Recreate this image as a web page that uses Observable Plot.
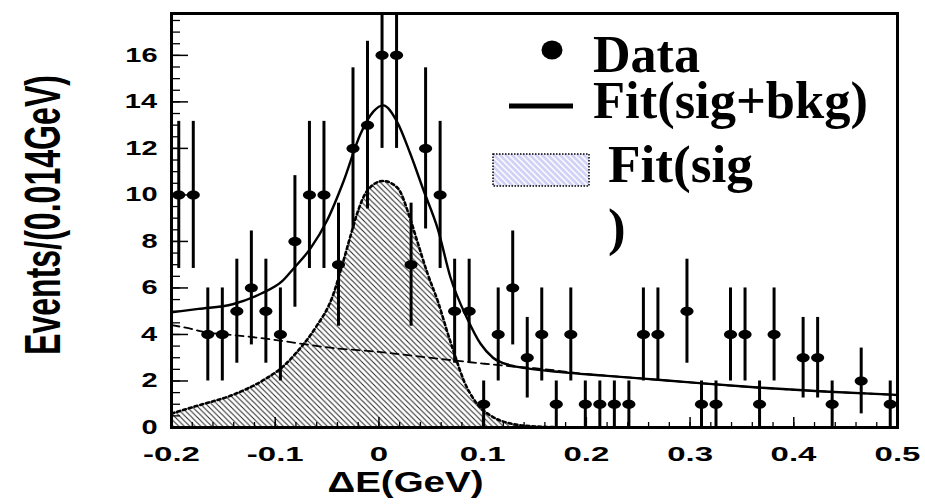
<!DOCTYPE html>
<html>
<head>
<meta charset="utf-8">
<script src="https://cdn.jsdelivr.net/npm/d3@7"></script>
<script src="https://cdn.jsdelivr.net/npm/@observablehq/plot@0.6"></script>
<style>
  html, body { margin: 0; padding: 0; background: #fff; }
  svg { display: block; }
</style>
</head>
<body>
<div id="chart"></div>
<script>
// ---------------- data ----------------
const binStart = -0.2;
const binWidth = 0.014;
// events per 0.014 GeV bin (50 bins from -0.2 to 0.5)
const counts = [10, 10, 4, 4, 5, 6, 5, 4, 8, 10,
                10, 7, 12, 13, 16, 16, 7, 12, 10, 5,
                5, 1, 4, 6, 3, 4, 1, 4, 1, 1,
                1, 1, 4, 4, 0, 5, 1, 1, 4, 4,
                1, 4, 0, 3, 3, 1, 0, 2, 0, 1];

// Fit(sig+bkg) – solid curve
const totX = [-0.2, -0.174, -0.141, -0.114, -0.093, -0.082, -0.066, -0.05, -0.034, -0.018, -0.005, 0.004,
              0.018, 0.030, 0.043, 0.057, 0.069, 0.085, 0.098, 0.110, 0.127, 0.143, 0.175, 0.214,
              0.255, 0.300, 0.365, 0.429, 0.5];
const totY = [4.95, 5.1, 5.3, 5.75, 6.3, 6.85, 7.7, 8.9, 10.6, 12.6, 13.6, 13.85,
              13.1, 11.8, 10.2, 8.5, 6.45, 4.7, 3.6, 3.0, 2.67, 2.54, 2.38, 2.24,
              2.1, 1.94, 1.72, 1.55, 1.4];

// Fit(sig) – hatched, dashed border
const sigX = [-0.2, -0.174, -0.141, -0.109, -0.093, -0.078, -0.061, -0.045, -0.034, -0.027, -0.021, -0.011,
              0.004, 0.018, 0.030, 0.037, 0.047, 0.057, 0.066, 0.074, 0.082, 0.095, 0.110, 0.127,
              0.146, 0.175, 0.214];
const sigY = [0.6, 0.95, 1.4, 2.1, 2.6, 3.3, 4.3, 5.6, 7.2, 8.3, 9.2, 10.2,
              10.6, 10.3, 9.0, 8.0, 6.6, 5.4, 4.1, 3.0, 2.0, 1.0, 0.45, 0.17,
              0.06, 0.01, 0];

// background – dashed curve
const bkgX = [-0.2, -0.185, -0.17, -0.14, -0.109, -0.078, -0.045, 0.0, 0.03, 0.065, 0.1, 0.13, 0.15,
              0.2, 0.255, 0.3, 0.365, 0.43, 0.5];
const bkgY = [4.4, 4.28, 4.12, 3.97, 3.82, 3.62, 3.42, 3.25, 3.1, 2.92, 2.75, 2.62, 2.55,
              2.3, 2.1, 1.94, 1.72, 1.55, 1.4];

const xMajor = [-0.2, -0.1, 0, 0.1, 0.2, 0.3, 0.4, 0.5];
const xMinor = d3.range(0, 36).map(i => -0.2 + 0.02 * i).filter(v => v <= 0.5001);
const yMajor = [0, 2, 4, 6, 8, 10, 12, 14, 16];
const yMinor = d3.range(0, 36).map(i => i * 0.5).filter(v => v <= 17.6);

const xLabel = "ΔE(GeV)";
const yLabel = "Events/(0.014GeV)";
const legendItems = ["Data", "Fit(sig+bkg)", "Fit(sig", ")"];

// ---------------- tables ----------------
const bins = counts.map((n, i) => ({x: binStart + binWidth * (i + 0.5), n})).filter(d => d.n > 0);
const tot = totX.map((x, i) => ({x, y: totY[i]}));
const sig = sigX.map((x, i) => ({x, y: sigY[i]}));
const bkg = bkgX.map((x, i) => ({x, y: bkgY[i]}));

// elliptical marker (wide ROOT-style dot)
const ellipse = {
  draw(ctx, size) {
    const r = Math.sqrt(size / Math.PI);
    const rx = r * 1.45, ry = r, k = 0.5523;
    ctx.moveTo(rx, 0);
    ctx.bezierCurveTo(rx, ry * k, rx * k, ry, 0, ry);
    ctx.bezierCurveTo(-rx * k, ry, -rx, ry * k, -rx, 0);
    ctx.bezierCurveTo(-rx, -ry * k, -rx * k, -ry, 0, -ry);
    ctx.bezierCurveTo(rx * k, -ry, rx, -ry * k, rx, 0);
    ctx.closePath();
  }
};

const W = 925, H = 504, mL = 171, mR = 28, mT = 13, mB = 77;
const plotW = W - mL - mR, plotH = H - mT - mB;
const sans = "'Liberation Sans', Arial, Helvetica, sans-serif";

const chart = Plot.plot({
  width: W, height: H,
  marginLeft: mL, marginRight: mR, marginTop: mT, marginBottom: mB,
  style: {background: "white", fontFamily: sans, overflow: "visible", color: "black"},
  x: {domain: [-0.2, 0.5], axis: null},
  y: {domain: [0, 17.8], axis: null, clamp: true},
  marks: [
    Plot.areaY(sig, {x: "x", y: "y", fill: "url(#hatch)", curve: "monotone-x"}),
    Plot.line(sig, {x: "x", y: "y", stroke: "black", strokeWidth: 2.6, strokeDasharray: "3,3", curve: "monotone-x"}),
    Plot.line(bkg, {x: "x", y: "y", stroke: "black", strokeWidth: 1.8, strokeDasharray: "8,5", curve: "monotone-x"}),
    Plot.line(tot, {x: "x", y: "y", stroke: "black", strokeWidth: 2.4, curve: "monotone-x"}),
    Plot.ruleX(bins, {x: "x", y1: d => d.n - Math.sqrt(d.n), y2: d => d.n + Math.sqrt(d.n), stroke: "black", strokeWidth: 3}),
    Plot.dot(bins, {x: "x", y: "n", r: 4.5, symbol: ellipse, fill: "black", stroke: "none"}),
    Plot.frame({stroke: "black", strokeWidth: 3}),
    Plot.ruleX(xMinor, {x: d => d, insetTop: plotH - 5, stroke: "black", strokeWidth: 1.3}),
    Plot.ruleX(xMajor, {x: d => d, insetTop: plotH - 10, stroke: "black", strokeWidth: 1.5}),
    Plot.ruleY(yMinor, {y: d => d, insetRight: plotW - 9, stroke: "black", strokeWidth: 1.3}),
    Plot.ruleY(yMajor, {y: d => d, insetRight: plotW - 17, stroke: "black", strokeWidth: 1.5}),
    Plot.text(xMajor, {x: d => d, frameAnchor: "bottom", dy: 33, textAnchor: "middle",
      text: d => String(Math.round(d * 10) / 10),
      fontSize: 20, fontWeight: "bold", fill: "black", ariaDescription: "x-tick-label"}),
    Plot.text(yMajor, {y: d => d, frameAnchor: "left", dx: -14, textAnchor: "end", text: d => String(d),
      fontSize: 20, fontWeight: "bold", fill: "black", ariaDescription: "y-tick-label"}),
    Plot.text([xLabel], {frameAnchor: "bottom", dx: -129, dy: 64, textAnchor: "middle", text: d => d,
      fontSize: 30, fontWeight: "bold", fill: "black", ariaDescription: "x-label"})
  ]
});

document.getElementById("chart").appendChild(chart);
const svg = d3.select(chart);

// patterns
const defs = svg.insert("defs", ":first-child");
const hp = defs.append("pattern").attr("id", "hatch").attr("patternUnits", "userSpaceOnUse")
  .attr("width", 5.5).attr("height", 5.5);
hp.append("rect").attr("width", 5.5).attr("height", 5.5).attr("fill", "white");
hp.append("path").attr("d", "M0,0L5.5,5.5M-1,4.5L1,6.5M4.5,-1L6.5,1")
  .attr("stroke", "#222").attr("stroke-width", 1);
const lp = defs.append("pattern").attr("id", "lhatch").attr("patternUnits", "userSpaceOnUse")
  .attr("width", 6).attr("height", 6);
lp.append("rect").attr("width", 6).attr("height", 6).attr("fill", "#d2d2f6");
lp.append("path").attr("d", "M0,0L6,6M-1,5L1,7M5,-1L7,1")
  .attr("stroke", "white").attr("stroke-width", 1.4);

// stretch text horizontally (wide ROOT fonts) with a local transform
function stretchEl(el, factor, anchor) {
  const b = el.getBBox();
  if (!b.width) return;
  const cx = anchor === "end" ? b.x + b.width : anchor === "start" ? b.x : b.x + b.width / 2;
  const prev = el.getAttribute("transform") || "";
  el.setAttribute("transform", `${prev} translate(${cx},0) scale(${factor},1) translate(${-cx},0)`.trim());
}
function stretchSel(sel, factor, anchor) {
  svg.selectAll(sel).each(function() { stretchEl(this, factor, anchor); });
}
function stretchToWidth(sel, target, anchor) {
  svg.selectAll(sel).each(function() {
    const w = this.getBBox().width;
    if (w) stretchEl(this, target / w, anchor);
  });
}
stretchSel('g[aria-description="x-tick-label"] text', 1.65, "middle");
stretchSel('g[aria-description="y-tick-label"] text', 1.45, "end");
stretchToWidth('g[aria-description="x-label"] text', 156, "middle");

// y-axis label: rotated, glyphs widened horizontally like the rest of the picture
const yl = svg.append("text")
  .attr("transform", "translate(60,215) rotate(-90) scale(1,1.65)")
  .attr("text-anchor", "middle")
  .attr("font-family", sans).attr("font-weight", "bold").attr("font-size", 30).attr("fill", "black")
  .text(yLabel);
{
  const w = yl.node().getBBox().width;
  if (w) yl.attr("transform", `translate(60,215) rotate(-90) scale(${280 / w},1.65)`);
}

// legend
const serif = "'Liberation Serif', 'Times New Roman', Times, serif";
const lg = svg.append("g").attr("aria-label", "legend").attr("text-anchor", "start");
lg.append("ellipse").attr("cx", 552).attr("cy", 50).attr("rx", 10.5).attr("ry", 9.5).attr("fill", "black");
lg.append("line").attr("x1", 509).attr("x2", 573).attr("y1", 106).attr("y2", 106)
  .attr("stroke", "black").attr("stroke-width", 5);
lg.append("rect").attr("x", 493).attr("y", 154).attr("width", 96).attr("height", 32)
  .attr("fill", "url(#lhatch)").attr("stroke", "black").attr("stroke-width", 1.5).attr("stroke-dasharray", "1.5,1.5");
const legendPos = [[593, 72, 107], [593, 118, 275], [608, 182, 145], [608, 245, null]];
legendItems.forEach((t, i) => {
  const [x, y, len] = legendPos[i];
  const el = lg.append("text").attr("x", x).attr("y", y).text(t)
    .attr("text-anchor", "start")
    .attr("font-family", serif).attr("font-weight", "bold").attr("font-size", 53).attr("fill", "black");
  if (len) {
    const w = el.node().getBBox().width;
    if (w) stretchEl(el.node(), len / w, "start");
  }
});
</script>
</body>
</html>
